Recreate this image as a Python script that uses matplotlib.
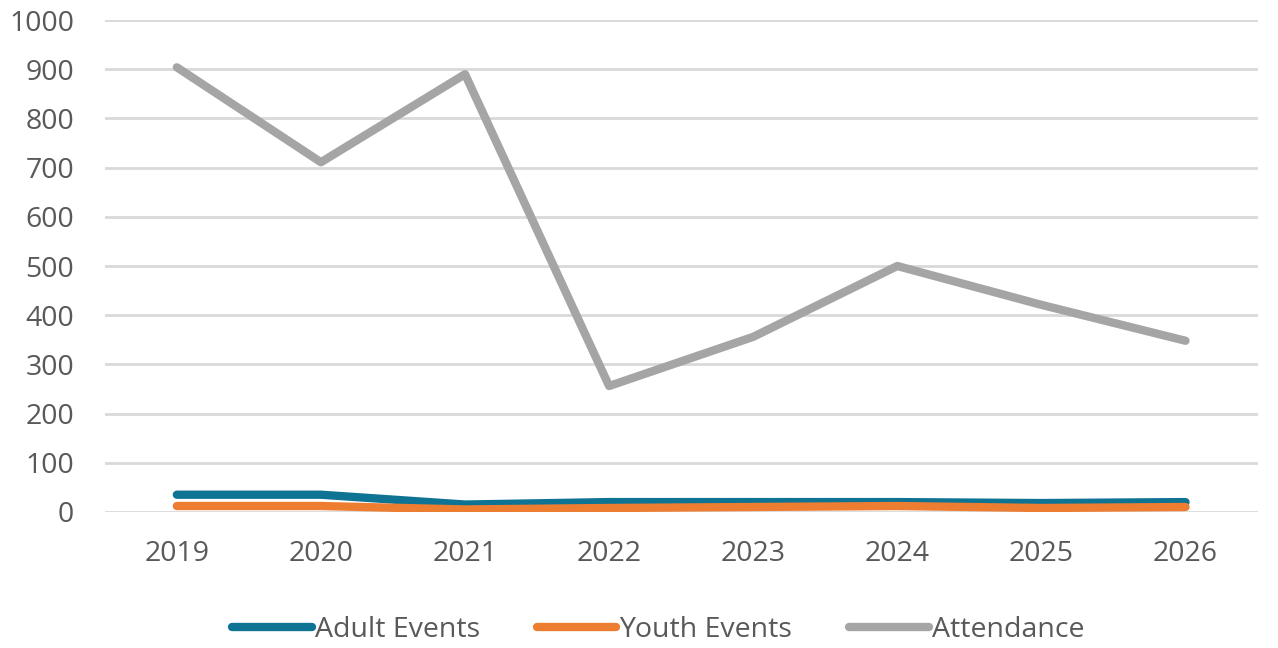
import numpy as np
import matplotlib.pyplot as plt

# dane
years = ['2019', '2020', '2021', '2022', '2023', '2024', '2025', '2026']
adult = [35, 35, 15, 20, 20, 20, 18, 20]
youth = [12, 12, 5, 8, 10, 12, 8, 10]
attendance = [904, 711, 890, 256, 356, 500, 421, 348]

plt.rcParams['font.family'] = ['Open Sans', 'DejaVu Sans']
txt = '#595959'

fig = plt.figure(figsize=(12.78, 6.48), dpi=100)
ax = fig.add_axes([0.082, 0.21, 0.902, 0.759])

x = np.arange(len(years))
ax.plot(x, adult, color='#0F7393', lw=6, solid_capstyle='round', label='Adult Events', zorder=3)
ax.plot(x, youth, color='#ED7D31', lw=6, solid_capstyle='round', label='Youth Events', zorder=4)
ax.plot(x, attendance, color='#A5A5A5', lw=6, solid_capstyle='round', label='Attendance', zorder=3)

ax.set_xlim(-0.5, len(years) - 0.5)
ax.set_ylim(0, 1000)
ax.set_yticks(np.arange(0, 1001, 100))
ax.set_xticks(x)
ax.set_xticklabels(years)
ax.grid(axis='y', color='#D9D9D9', lw=2)
ax.set_axisbelow(True)
for s in ax.spines.values():
    s.set_visible(False)
ax.tick_params(length=0, labelsize=20.5, colors=txt)
ax.tick_params(axis='y', pad=22)
ax.tick_params(axis='x', pad=20)

leg = ax.legend(loc='upper center', bbox_to_anchor=(0.48, -0.16), ncol=3, frameon=False,
                fontsize=20.5, handlelength=2.8, handletextpad=0.1, columnspacing=2.0)
for t in leg.get_texts():
    t.set_color(txt)

fig.savefig('out.png', dpi=100)
